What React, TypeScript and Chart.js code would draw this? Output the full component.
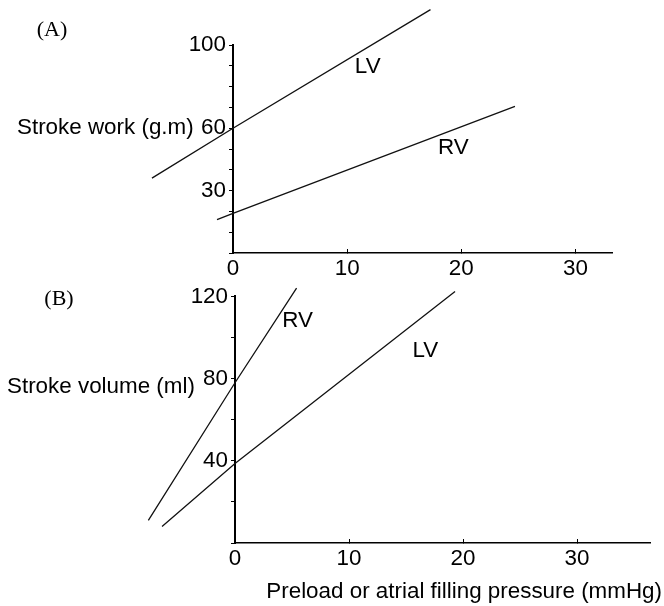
import React, { useEffect, useRef } from 'react';
import { Chart, registerables } from 'chart.js';

Chart.register(...registerables);

// Panel A: stroke work (g.m) against filling pressure (mmHg)
const pressureLV_A = [-7.1, 0, 17.3];
const workLV = [36, 60, 117];
const pressureRV_A = [-1.4, 0, 24.7];
const workRV = [16, 19, 70.5];

// Panel B: stroke volume (ml) against filling pressure (mmHg)
const pressureRV_B = [-7.6, 0, 5.4];
const volumeRV = [11, 78, 124];
const pressureLV_B = [-6.4, 0, 19.3];
const volumeLV = [8, 38.7, 122.4];

// Tick labels that are printed on the axes
const xTickLabels = [0, 10, 20, 30];
const yTickLabelsA = [30, 60, 100];
const yTickLabelsB = [40, 80, 120];

// Curve names, anchored in data units
const curveNamesA = [
  { text: 'LV', x: 11.8, y: 89.4 },
  { text: 'RV', x: 19.3, y: 50.7 },
];
const curveNamesB = [
  { text: 'RV', x: 5.5, y: 107.9 },
  { text: 'LV', x: 16.7, y: 93.4 },
];

const SANS = '"Liberation Sans", Arial, sans-serif';
const SERIF = '"Liberation Serif", "Times New Roman", serif';
const FONT_SIZE = 22.4;

type CurveName = { text: string; x: number; y: number };

type PanelText = {
  panel: string;
  panelPos: [number, number];
  yTitle: string;
  yTitleLeft: number;
  yTitleAt: number;
  xTitle?: string;
  xTitleRight?: number;
  xTitleY?: number;
  curves: CurveName[];
};

function textPlugin(t: PanelText) {
  return {
    id: 'panelText',
    afterDraw(chart: any) {
      const { ctx, scales } = chart;
      ctx.save();
      ctx.fillStyle = '#000';
      ctx.textBaseline = 'middle';

      ctx.font = `22px ${SERIF}`;
      ctx.textAlign = 'center';
      ctx.fillText(t.panel, t.panelPos[0], t.panelPos[1]);

      ctx.font = `${FONT_SIZE}px ${SANS}`;
      for (const c of t.curves) {
        ctx.fillText(c.text, scales.x.getPixelForValue(c.x), scales.y.getPixelForValue(c.y));
      }

      ctx.textAlign = 'left';
      ctx.fillText(t.yTitle, t.yTitleLeft, scales.y.getPixelForValue(t.yTitleAt));

      if (t.xTitle) {
        ctx.textAlign = 'right';
        ctx.fillText(t.xTitle, t.xTitleRight, t.xTitleY);
      }
      ctx.restore();
    },
  };
}

function line(xs: number[], ys: number[]) {
  return {
    data: xs.map((x, i) => ({ x, y: ys[i] })),
    showLine: true,
    borderColor: '#111',
    borderWidth: 1.3,
    pointRadius: 0,
    tension: 0,
    fill: false,
    clip: false as any,
  };
}

type PanelProps = {
  top: number;
  height: number;
  datasets: any[];
  xMax: number;
  yMax: number;
  yStep: number;
  yLabels: number[];
  padding: { left: number; top: number; right: number; bottom: number };
  xAxisHeight: number;
  text: PanelText;
};

function Panel(p: PanelProps) {
  const ref = useRef<HTMLCanvasElement>(null);

  useEffect(() => {
    if (!ref.current) return;
    const chart = new Chart(ref.current, {
      type: 'scatter',
      data: { datasets: p.datasets },
      options: {
        responsive: false,
        animation: false,
        devicePixelRatio: 1,
        layout: { padding: p.padding },
        plugins: { legend: { display: false }, tooltip: { enabled: false } },
        scales: {
          x: {
            type: 'linear',
            min: 0,
            max: p.xMax,
            afterFit: (s: any) => {
              s.height = p.xAxisHeight;
            },
            border: { display: true, color: '#000', width: 1.5 },
            grid: { drawOnChartArea: false, drawTicks: true, tickLength: -4, color: '#000', lineWidth: 1 },
            ticks: {
              stepSize: 10,
              includeBounds: false,
              autoSkip: false,
              maxRotation: 0,
              padding: 6,
              color: '#000',
              font: { family: SANS, size: FONT_SIZE },
              callback: (v: any) => (xTickLabels.includes(v) ? String(v) : ''),
            },
          },
          y: {
            type: 'linear',
            min: 0,
            max: p.yMax,
            afterFit: (s: any) => {
              s.width = 45;
            },
            border: { display: true, color: '#000', width: 2 },
            grid: { drawOnChartArea: false, drawTicks: true, tickLength: 4, color: '#000', lineWidth: 1 },
            ticks: {
              stepSize: p.yStep,
              autoSkip: false,
              padding: 3,
              color: '#000',
              font: { family: SANS, size: FONT_SIZE },
              callback: (v: any) => (p.yLabels.includes(v) ? String(v) : ''),
            },
          },
        },
      },
      plugins: [textPlugin(p.text)],
    });
    return () => chart.destroy();
  }, []);

  return (
    <canvas
      ref={ref}
      width={664}
      height={p.height}
      style={{ position: 'absolute', left: 0, top: p.top, width: 664, height: p.height, display: 'block' }}
    />
  );
}

export default function App() {
  return (
    <div style={{ position: 'fixed', left: 0, top: 0, width: 664, height: 606, background: '#fff', overflow: 'hidden' }}>
      <Panel
        top={0}
        height={280}
        datasets={[line(pressureLV_A, workLV), line(pressureRV_A, workRV)]}
        xMax={33.2}
        yMax={100}
        yStep={10}
        yLabels={yTickLabelsA}
        padding={{ left: 188, top: 45, right: 52, bottom: 0 }}
        xAxisHeight={27}
        text={{
          panel: '(A)',
          panelPos: [52, 30],
          yTitle: 'Stroke work (g.m)',
          yTitleLeft: 17,
          yTitleAt: 60,
          curves: curveNamesA,
        }}
      />
      <Panel
        top={280}
        height={326}
        datasets={[line(pressureRV_B, volumeRV), line(pressureLV_B, volumeLV)]}
        xMax={36.4}
        yMax={120}
        yStep={20}
        yLabels={yTickLabelsB}
        padding={{ left: 190, top: 15, right: 14, bottom: 0 }}
        xAxisHeight={63}
        text={{
          panel: '(B)',
          panelPos: [59, 19],
          yTitle: 'Stroke volume (ml)',
          yTitleLeft: 7,
          yTitleAt: 76,
          xTitle: 'Preload or atrial filling pressure (mmHg)',
          xTitleRight: 662,
          xTitleY: 312,
          curves: curveNamesB,
        }}
      />
    </div>
  );
}
